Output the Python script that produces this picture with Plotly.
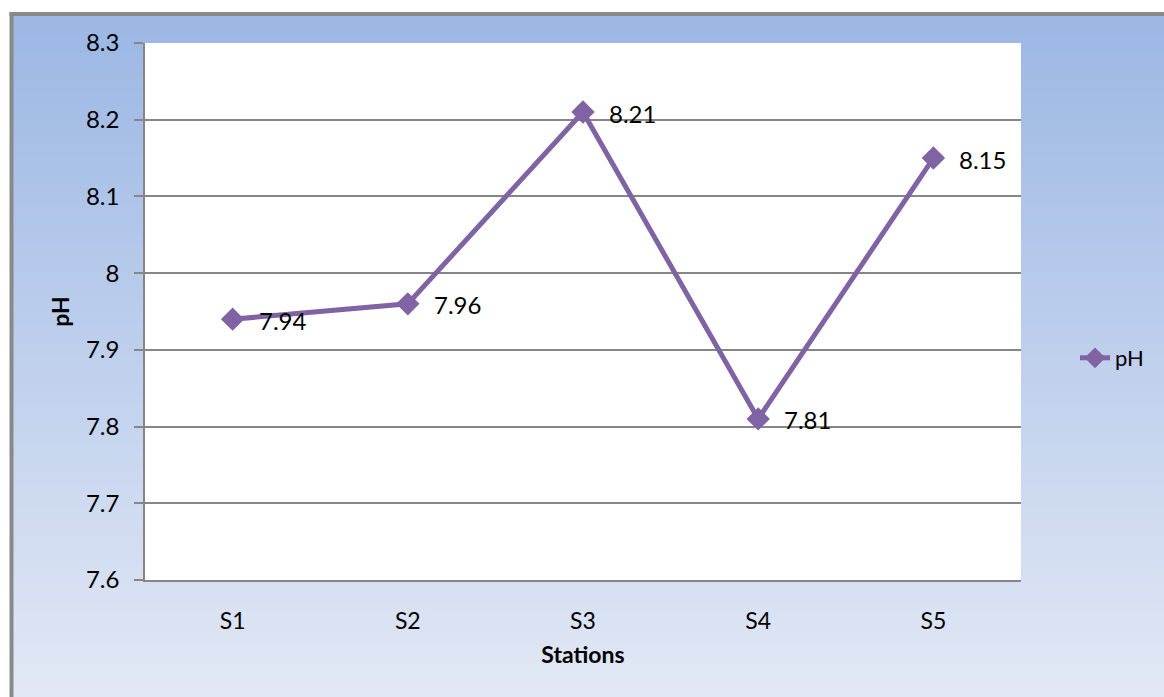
import plotly.graph_objects as go

# Station pH readings
stations = ["S1", "S2", "S3", "S4", "S5"]
ph_values = [7.94, 7.96, 8.21, 7.81, 8.15]
ph_labels = ["7.94", "7.96", "8.21", "7.81", "8.15"]

y_tick_vals = [7.6, 7.7, 7.8, 7.9, 8.0, 8.1, 8.2, 8.3]
y_tick_text = ["7.6", "7.7", "7.8", "7.9", "8", "8.1", "8.2", "8.3"]

W, H = 1164, 697
L, R, T, B = 145, 143, 43, 117
PW, PH = W - L - R, H - T - B

FONT = "Lato, 'Open Sans', sans-serif"
LINE_COLOR = "#7F63A3"


def px_x(px):
    return (px - L) / PW


def px_y(py):
    return (H - B - py) / PH


def mix(c0, c1, f):
    return "rgb(%d,%d,%d)" % tuple(round(a + (b - a) * f) for a, b in zip(c0, c1))


shapes = []
# vertical gradient backdrop built from thin strips
top_c, bot_c = (155, 183, 228), (226, 232, 245)
y_start, y_end = 14, H
n = 140
step = (y_end - y_start) / n
for i in range(n):
    y0 = y_start + i * step
    y1 = y0 + step + 1
    shapes.append(dict(type="rect", xref="paper", yref="paper",
                       x0=px_x(12), x1=px_x(W + 2), y0=px_y(y1), y1=px_y(y0),
                       fillcolor=mix(top_c, bot_c, i / (n - 1)),
                       line=dict(width=0), layer="below"))
# white plotting area over the backdrop
shapes.append(dict(type="rect", xref="x domain", yref="y domain",
                   x0=0, x1=1, y0=0, y1=1, fillcolor="white",
                   line=dict(width=0), layer="below"))
# grey frame on the left and top edges
shapes.append(dict(type="line", xref="paper", yref="paper",
                   x0=px_x(11.5), x1=px_x(11.5), y0=px_y(12), y1=px_y(H + 2),
                   line=dict(color="#898989", width=4), layer="below"))
shapes.append(dict(type="line", xref="paper", yref="paper",
                   x0=px_x(9.5), x1=px_x(W + 2), y0=px_y(14), y1=px_y(14),
                   line=dict(color="#898989", width=4), layer="below"))

fig = go.Figure()
fig.add_trace(go.Scatter(
    x=stations, y=ph_values, name="pH",
    mode="lines+markers",
    line=dict(color=LINE_COLOR, width=5),
    marker=dict(symbol="diamond", size=18, color=LINE_COLOR),
    cliponaxis=False,
))

# value labels to the right of each point
annotations = [
    dict(x=s, y=v, text=t, xref="x", yref="y", showarrow=False,
         xanchor="left", yanchor="middle", xshift=24, yshift=-1,
         font=dict(family=FONT, size=24, color="black"))
    for s, v, t in zip(stations, ph_values, ph_labels)
]

fig.update_layout(
    width=W, height=H,
    margin=dict(l=L, r=R, t=T, b=B),
    paper_bgcolor="white",
    plot_bgcolor="rgba(0,0,0,0)",
    font=dict(family=FONT, size=24, color="black"),
    shapes=shapes,
    annotations=annotations,
    showlegend=True,
    legend=dict(x=px_x(1075), y=px_y(358), xanchor="left", yanchor="middle",
                bgcolor="rgba(0,0,0,0)", font=dict(size=22),
                itemwidth=30),
    xaxis=dict(
        range=[-0.5, 4.5], showgrid=False, zeroline=False,
        showline=True, linecolor="#868686", linewidth=1.5,
        ticks="", tickfont=dict(size=23), ticklabelstandoff=20,
        title=dict(text="<b>Stations</b>", font=dict(size=23), standoff=14),
    ),
    yaxis=dict(
        range=[7.6, 8.3], tickvals=y_tick_vals, ticktext=y_tick_text,
        showgrid=True, gridcolor="#868686", gridwidth=1.5, zeroline=False,
        showline=True, linecolor="#868686", linewidth=1.5,
        ticks="outside", ticklen=9, tickcolor="#868686", tickwidth=1.5,
        tickfont=dict(size=24), ticklabelstandoff=10,
        title=dict(text="<b>pH</b>", font=dict(size=23), standoff=10),
    ),
)

fig.write_html("out.html")
